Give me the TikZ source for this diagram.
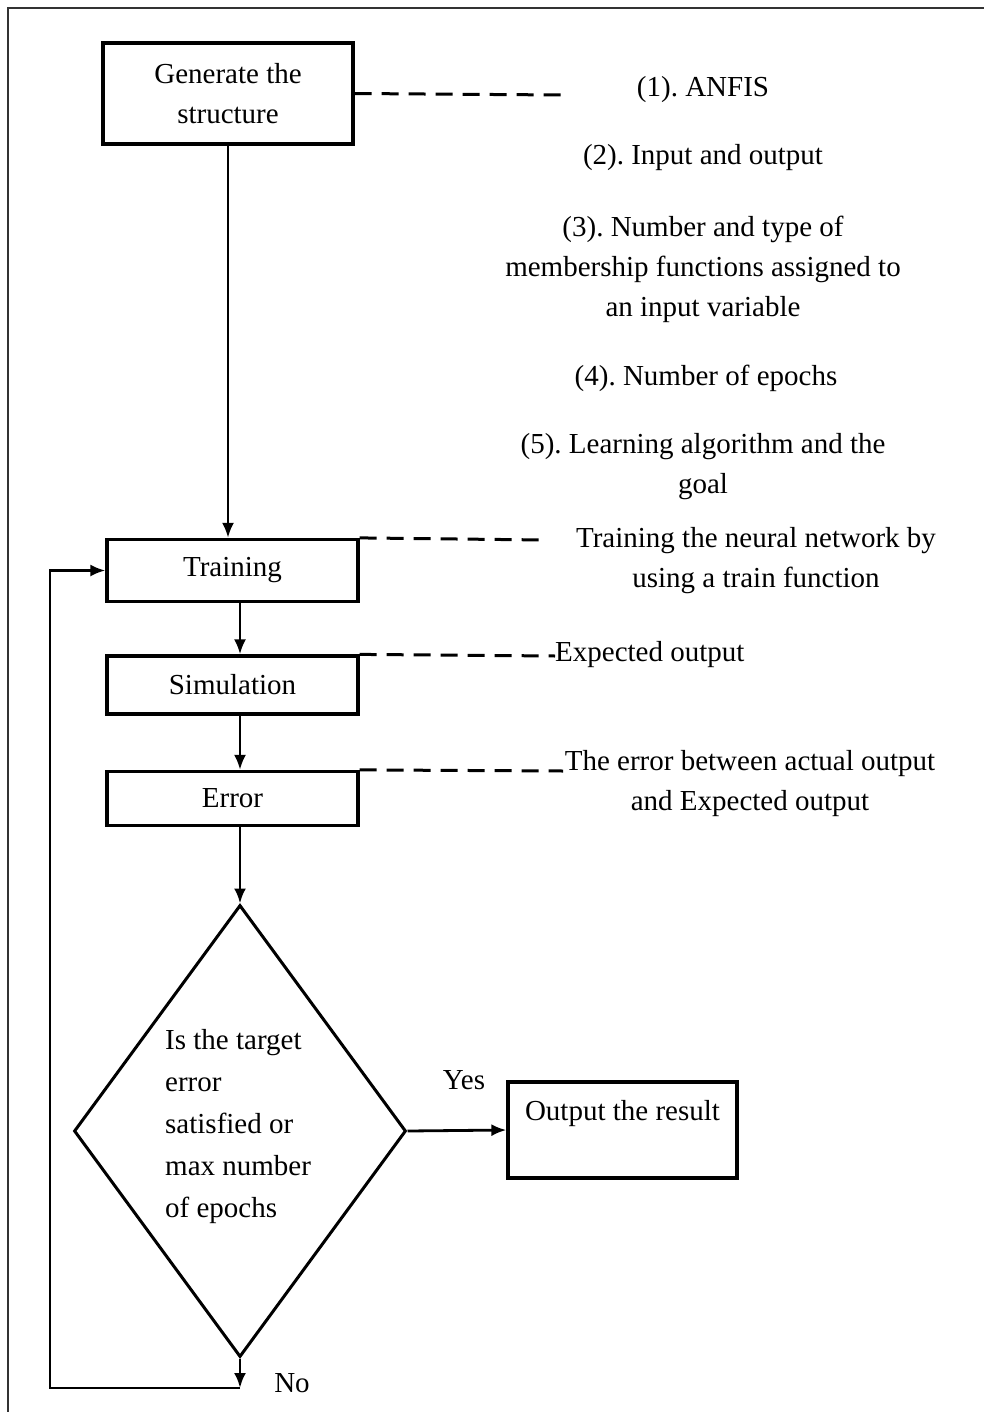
\documentclass[tikz,border=0pt]{standalone}
\usepackage{fontspec}
\setmainfont{Liberation Serif}
\usetikzlibrary{arrows.meta,shapes.geometric}
\frenchspacing
\begin{document}
\begin{tikzpicture}[x=1pt,y=-1pt,
  every node/.style={font=\fontsize{29}{40}\selectfont},
  box/.style={draw,line width=3.2pt,rectangle,inner sep=0pt},
  arr/.style={line width=2.8pt,-{Latex[length=15pt,width=12pt]}},
  dsh/.style={line width=3pt,dash pattern=on 17pt off 10pt},
  txt/.style={align=center,inner sep=0pt}]
\useasboundingbox (0,0) rectangle (984,1412);
\draw[line width=2pt,black!80] (8,1412) -- (8,8) -- (984,8);
% boxes
\node[box,minimum width=250,minimum height=101,align=center] (gen) at (228,93.5) {Generate the\\structure};
\node[box,minimum width=251,minimum height=62] (train) at (232.5,570.5) {Training};
\node[box,minimum width=251,minimum height=58] (sim) at (232.5,685) {Simulation};
\node[box,minimum width=251,minimum height=54] (err) at (232.5,798.5) {Error};
\node[box,minimum width=229,minimum height=96,align=center] (out) at (622.5,1130) {Output the result\\\mbox{}};
\node[draw,line width=3pt,diamond,shape aspect=1,minimum width=332,minimum height=452,inner sep=0pt] (dia) at (240,1131) {};
\node[align=left,anchor=west,inner sep=0pt,font=\fontsize{29}{42}\selectfont] (diatxt) at (165,1127) {Is the target\\error\\satisfied or\\max number\\of epochs};
% right texts
\node[txt] (t1) at (703,90) {(1). ANFIS};
\node[txt] (t2) at (703,158) {(2). Input and output};
\node[txt] (t3) at (703,269) {(3). Number and type of\\membership functions assigned to\\an input variable};
\node[txt] (t4) at (706,378) {(4). Number of epochs};
\node[txt] (t5) at (703,467) {(5). Learning algorithm and the\\goal};
\node[txt] (ttrain) at (756,561) {Training the neural network by\\using a train function};
\node[txt,anchor=west] (tsim) at (555,655) {Expected output};
\node[txt] (terr) at (750,784) {The error between actual output\\and Expected output};
\node[txt] (yes) at (464,1080) {Yes};
\node[txt] (no) at (292,1383) {No};
% dashed leaders
\coordinate (g1) at (562,95);
\coordinate (tr1) at (545,540);
\coordinate (si1) at (555,656);
\coordinate (er1) at (563,771);
\draw[dsh] (gen.east) -- (g1);
\draw[dsh] (train.north east) -- (tr1);
\draw[dsh] (sim.north east) -- (si1);
\draw[dsh] (err.north east) -- (er1);
% flow arrows
\draw[arr] (gen.south) -- (gen.south |- train.north);
\draw[arr] (train.south -| dia.north) -- (sim.north -| dia.north);
\draw[arr] (sim.south -| dia.north) -- (err.north -| dia.north);
\draw[arr] (err.south -| dia.north) -- (dia.north);
\draw[arr] (dia.east) -- (out.west);
\coordinate (nocorner) at (240,1388);
\coordinate (loopc) at (50,1388);
\draw[arr] (dia.south) -- (nocorner);
\draw[arr] (nocorner) -- (loopc) |- (train.west);
\end{tikzpicture}
\end{document}
